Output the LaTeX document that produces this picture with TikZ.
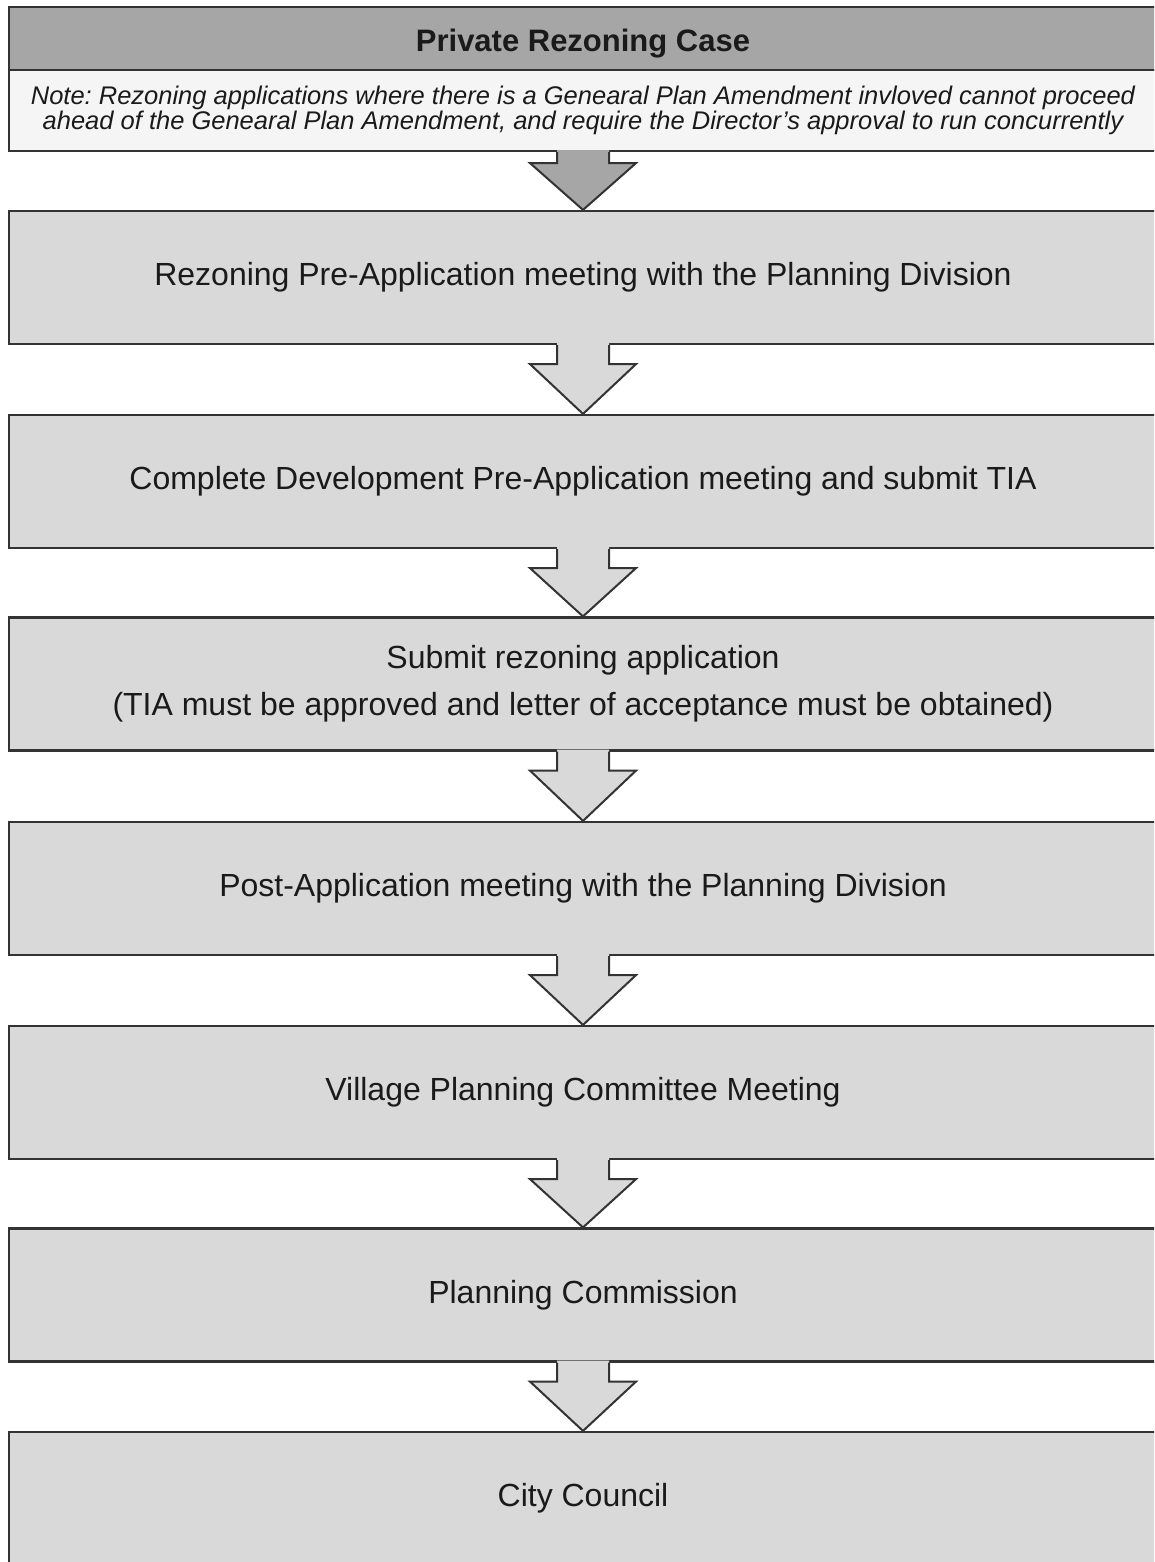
\documentclass[tikz,border=0pt]{standalone}
\usepackage{fontspec}
\setmainfont{Liberation Sans}
\usetikzlibrary{calc}
\definecolor{boxfill}{HTML}{D9D9D9}
\definecolor{headfill}{HTML}{A6A6A6}
\definecolor{notefill}{HTML}{F5F5F5}
\definecolor{edgecol}{HTML}{333333}
\definecolor{txtcol}{HTML}{1A1A1A}
\newcommand{\blockarrow}[3]{%
  \fill[#3] ($(#1.south)+(-26,-2)$) -- ($(#1.south)+(-26,19)$) -- ($(#1.south)+(-53,19)$)
    -- (#2.north) -- ($(#1.south)+(53,19)$) -- ($(#1.south)+(26,19)$) -- ($(#1.south)+(26,-2)$) -- cycle;
  \draw[arrowline] ($(#1.south)+(-26,0)$) -- ($(#1.south)+(-26,19)$) -- ($(#1.south)+(-53,19)$)
    -- (#2.north) -- ($(#1.south)+(53,19)$) -- ($(#1.south)+(26,19)$) -- ($(#1.south)+(26,0)$);
}
\begin{document}
\frenchspacing
\begin{tikzpicture}[x=1pt,y=-1pt,
  stepbox/.style={draw=edgecol, line width=2.2pt, fill=boxfill, minimum width=1148pt,
    minimum height=133pt, inner sep=0pt, align=center, text=txtcol,
    font=\fontsize{32}{47}\selectfont},
  headbox/.style={draw=edgecol, line width=2.2pt, fill=headfill, minimum width=1148pt,
    minimum height=63pt, inner sep=0pt},
  headtext/.style={inner sep=0pt, text=txtcol, font=\fontsize{31}{36}\selectfont\bfseries},
  notebox/.style={draw=edgecol, line width=2.2pt, fill=notefill, minimum width=1148pt,
    minimum height=81pt, inner sep=0pt, align=center, text=txtcol,
    font=\fontsize{25.5}{22}\selectfont\itshape},
  arrowline/.style={draw=edgecol, line width=2pt, line join=miter}]
\clip (0,0) rectangle (1154,1562);
\fill[white] (0,0) rectangle (1154,1562);

\node[notebox] (note) at (583,110.5) {Note: Rezoning applications where there is a Genearal Plan Amendment invloved cannot proceed\\ahead of the Genearal Plan Amendment, and require the Director's approval to run concurrently};
\node[headbox] (head) at (583,38.5) {};
\node[headtext] (headlabel) at (583,44) {Private Rezoning Case};

\node[stepbox] (b1) at (583,277.5) {Rezoning Pre-Application meeting with the Planning Division};
\node[stepbox] (b2) at (583,481.5) {Complete Development Pre-Application meeting and submit TIA};
\node[stepbox] (b3) at (583,684) {Submit rezoning application\\(TIA must be approved and letter of acceptance must be obtained)};
\node[stepbox] (b4) at (583,888.5) {Post-Application meeting with the Planning Division};
\node[stepbox] (b5) at (583,1092.5) {Village Planning Committee Meeting};
\node[stepbox] (b6) at (583,1295) {Planning Commission};
\node[stepbox] (b7) at (583,1498.5) {City Council};

\fill[headfill] ($(note.south)+(-26,-2)$) -- ($(note.south)+(-26,11)$) -- ($(note.south)+(-53,11)$)
    -- (b1.north) -- ($(note.south)+(53,11)$) -- ($(note.south)+(26,11)$) -- ($(note.south)+(26,-2)$) -- cycle;
\draw[arrowline] ($(note.south)+(-26,0)$) -- ($(note.south)+(-26,11)$) -- ($(note.south)+(-53,11)$)
    -- (b1.north) -- ($(note.south)+(53,11)$) -- ($(note.south)+(26,11)$) -- ($(note.south)+(26,0)$);

\blockarrow{b1}{b2}{boxfill}
\blockarrow{b2}{b3}{boxfill}
\blockarrow{b3}{b4}{boxfill}
\blockarrow{b4}{b5}{boxfill}
\blockarrow{b5}{b6}{boxfill}
\blockarrow{b6}{b7}{boxfill}
\end{tikzpicture}
\end{document}
